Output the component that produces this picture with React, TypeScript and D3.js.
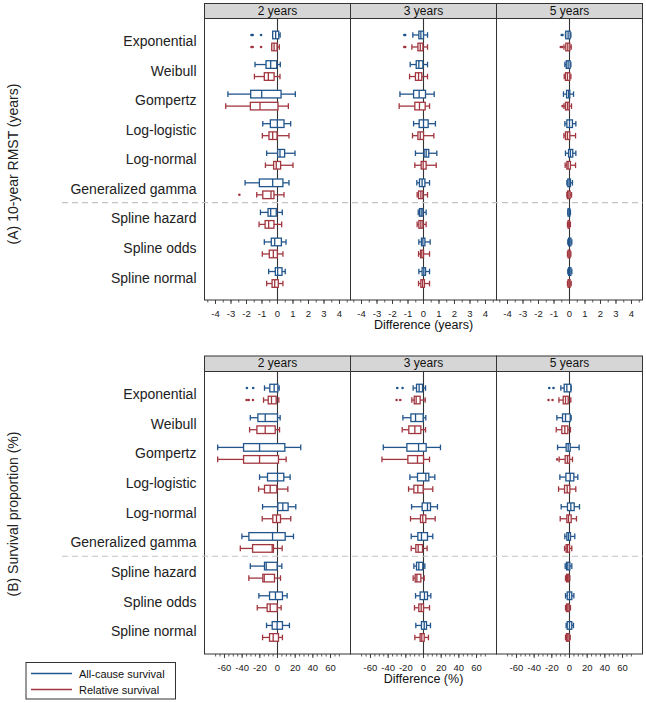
import React from "react";
import * as d3 from "d3";

const models = ["Exponential", "Weibull", "Gompertz", "Log-logistic", "Log-normal", "Generalized gamma", "Spline hazard", "Spline odds", "Spline normal"];
const horizons = ["2 years", "3 years", "5 years"];
const rmstTicks = [-4, -3, -2, -1, 0, 1, 2, 3, 4];
const propTicks = [-60, -40, -20, 0, 20, 40, 60];
const seriesNames = ["All-cause survival", "Relative survival"];

// [lower whisker, q1, median, q3, upper whisker]
const rmst2yAll = [[-0.31, -0.31, -0.12, 0.08, 0.17], [-1.45, -0.74, -0.44, -0.05, 0.18], [-3.2, -1.73, -1.02, 0.23, 1.15], [-0.95, -0.46, -0.01, 0.42, 0.85], [-0.7, 0.01, 0.16, 0.46, 1.13], [-2.09, -1.17, -0.31, 0.35, 0.74], [-1.1, -0.61, -0.44, -0.08, 0.31], [-0.85, -0.4, -0.18, 0.25, 0.55], [-0.57, -0.14, 0.01, 0.29, 0.5]];
const rmst2yRel = [[-0.37, -0.37, -0.22, -0.03, 0.12], [-1.49, -0.85, -0.59, -0.22, 0.16], [-3.34, -1.75, -1.13, 0.03, 0.7], [-0.98, -0.55, -0.31, -0.03, 0.74], [-0.78, -0.25, -0.08, 0.2, 1.0], [-1.34, -0.95, -0.42, -0.23, 0.42], [-1.19, -0.8, -0.57, -0.23, 0.27], [-0.98, -0.53, -0.27, -0.01, 0.35], [-0.7, -0.35, -0.18, 0.05, 0.35]];
const rmst3yAll = [[-0.69, -0.3, -0.17, 0, 0.26], [-0.86, -0.47, -0.3, -0.04, 0.26], [-1.52, -0.64, -0.28, 0.13, 0.69], [-0.64, -0.28, 0, 0.3, 0.77], [-0.52, 0.04, 0.17, 0.34, 0.86], [-0.43, -0.26, -0.09, 0.09, 0.39], [-0.34, -0.26, -0.15, -0.04, 0.17], [-0.3, -0.13, -0.04, 0.09, 0.43], [-0.3, -0.09, 0.02, 0.13, 0.39]];
const rmst3yRel = [[-0.75, -0.36, -0.21, -0.04, 0.26], [-0.9, -0.52, -0.32, -0.11, 0.26], [-1.57, -0.56, -0.26, 0.11, 0.39], [-0.71, -0.36, -0.21, 0, 0.67], [-0.56, -0.15, -0.02, 0.17, 0.82], [-0.41, -0.32, -0.17, -0.04, 0.26], [-0.41, -0.3, -0.17, -0.04, 0.17], [-0.32, -0.19, -0.11, 0, 0.39], [-0.32, -0.17, -0.06, 0.06, 0.39]];
const rmst5yAll = [[-0.26, -0.24, -0.09, 0.04, 0.09], [-0.3, -0.21, -0.09, 0.04, 0.09], [-0.39, -0.19, -0.06, 0.02, 0.26], [-0.3, -0.17, 0, 0.19, 0.41], [-0.26, -0.06, 0.06, 0.21, 0.41], [-0.17, -0.11, -0.02, 0.06, 0.19], [-0.11, -0.09, -0.02, 0.02, 0.06], [-0.11, -0.06, 0, 0.09, 0.15], [-0.11, -0.06, 0, 0.09, 0.15]];
const rmst5yRel = [[-0.36, -0.24, -0.11, 0.02, 0.11], [-0.34, -0.26, -0.13, 0.02, 0.09], [-0.36, -0.26, -0.13, -0.02, 0.13], [-0.36, -0.26, -0.13, 0.02, 0.39], [-0.28, -0.17, -0.09, 0.06, 0.39], [-0.17, -0.13, -0.04, 0.04, 0.13], [-0.13, -0.09, -0.04, 0, 0.06], [-0.13, -0.09, -0.02, 0.04, 0.09], [-0.13, -0.09, -0.02, 0.04, 0.11]];

const prop2yAll = [[-14.7, -8.7, -3.8, 0.4, 1.9], [-30.8, -22.2, -13.9, 0, 3.0], [-67.7, -38.4, -20.3, 8.3, 26.3], [-20.3, -11.3, 0, 7.1, 14.3], [-16.9, 0.4, 6.0, 12.0, 20.7], [-40.3, -32.4, -5.6, 8.7, 18.1], [-30.8, -14.7, -12.8, -0.4, 4.9], [-21.1, -9.0, -2.3, 5.6, 10.9], [-12.4, -6.0, -0.4, 5.6, 13.5]];
const prop2yRel = [[-15.8, -10.5, -6.8, -1.5, 1.5], [-31.6, -23.3, -13.9, -2.6, 2.3], [-67.7, -38.4, -20.3, 1.1, 9.8], [-21.4, -14.7, -8.3, -0.8, 11.7], [-17.3, -5.3, -1.1, 3.4, 15.0], [-42.1, -28.2, -6.0, -4.6, 5.3], [-32.4, -16.6, -15.0, -3.4, 3.4], [-22.9, -11.7, -8.3, -0.4, 4.1], [-16.9, -9.0, -4.9, 1.1, 5.6]];
const prop3yAll = [[-11.7, -7.9, -4.9, -1.1, 2.3], [-23.3, -14.3, -9.0, -0.4, 2.6], [-45.5, -18.8, -5.6, 3.0, 19.2], [-15.4, -6.8, 2.6, 6.0, 12.8], [-13.5, -1.5, 4.5, 7.9, 15.8], [-13.9, -6.4, -2.3, 4.5, 10.5], [-10.9, -7.9, -5.3, -0.8, 1.5], [-9.0, -3.8, 1.1, 4.5, 8.3], [-8.7, -2.3, 0.8, 3.4, 7.9]];
const prop3yRel = [[-13.2, -10.5, -8.3, -3.8, 1.9], [-24.1, -16.6, -9.8, -3.0, 2.3], [-47.0, -17.7, -6.8, 0, 6.8], [-16.9, -10.9, -6.4, -0.4, 10.5], [-14.7, -3.4, -0.8, 2.6, 13.2], [-13.9, -8.7, -6.0, -1.1, 4.1], [-11.7, -9.4, -7.5, -3.0, 0.8], [-10.2, -5.3, -2.6, 0, 6.8], [-9.8, -3.8, -1.9, 0.8, 5.6]];
const prop5yAll = [[-9.8, -6.0, -3.0, 1.5, 1.9], [-14.3, -7.9, -4.5, 0.8, 1.9], [-13.5, -3.8, -1.5, 0.8, 10.9], [-10.9, -4.1, 0.8, 4.9, 9.4], [-9.4, -2.3, 1.5, 5.3, 11.3], [-5.3, -3.0, -1.1, 1.1, 6.0], [-4.9, -3.4, -1.9, 0.4, 2.6], [-4.5, -2.6, 0, 2.6, 4.9], [-3.8, -2.6, 0, 2.6, 4.5]];
const prop5yRel = [[-12.0, -7.1, -4.5, -1.5, 1.5], [-15.0, -8.7, -5.3, -1.9, 1.1], [-11.7, -4.9, -2.3, 0, 3.4], [-12.4, -5.6, -2.6, 0.4, 7.1], [-10.5, -3.0, -1.1, 1.9, 7.9], [-5.6, -3.8, -2.3, 0, 2.6], [-4.5, -3.4, -2.3, -0.8, 0.4], [-4.5, -3.4, -1.9, -0.4, 1.1], [-4.5, -3.4, -1.9, -0.4, 0.8]];

// outliers per model
const rmst2yAllOut = [[-1.68, -1.6, -1.06], [], [], [], [], [], [], [], []];
const rmst2yRelOut = [[-1.68, -1.6, -1.06], [], [], [], [], [-2.46], [], [], []];
const rmst3yAllOut = [[-1.24, -1.18], [], [], [], [], [], [], [], []];
const rmst3yRelOut = [[-1.24, -1.18], [], [], [], [], [], [], [], []];
const rmst5yAllOut = [[-0.5, -0.45], [], [], [], [], [], [], [], []];
const rmst5yRelOut = [[-0.56, -0.47], [], [-0.45], [], [], [], [], [], []];
const prop2yAllOut = [[-34.6, -27.5], [], [], [], [], [], [], [], []];
const prop2yRelOut = [[-35.0, -32.6, -27.8], [], [], [], [], [], [], [], []];
const prop3yAllOut = [[-29.7, -23.7], [], [], [], [], [], [], [], []];
const prop3yRelOut = [[-30.5, -26.3], [], [], [], [], [], [], [], []];
const prop5yAllOut = [[-22.9, -18.1], [], [], [], [], [], [], [], []];
const prop5yRelOut = [[-23.7, -19.2], [], [-13.9], [], [], [], [], [], []];

const BLUE = "#21558c";
const RED = "#a2363f";
const FONT = "'Liberation Sans', Arial, Helvetica, sans-serif";

const PX0 = 204.5;
const PW = 146;

type Block = {
  title: string;
  axisTitle: string;
  headerTop: number;
  plotTop: number;
  plotBottom: number;
  domain: [number, number];
  ticks: number[];
  minorStep: number;
  minorMax: number;
  titleY: number;
  all: number[][][];
  rel: number[][][];
  allOut: number[][][];
  relOut: number[][][];
};

const blocks: Block[] = [
  {
    title: "(A) 10-year RMST (years)",
    axisTitle: "Difference (years)",
    headerTop: 3.5,
    plotTop: 18.5,
    plotBottom: 300,
    domain: [-4.71, 4.71],
    ticks: rmstTicks,
    minorStep: 0.5,
    minorMax: 4.5,
    titleY: 164,
    all: [rmst2yAll, rmst3yAll, rmst5yAll],
    rel: [rmst2yRel, rmst3yRel, rmst5yRel],
    allOut: [rmst2yAllOut, rmst3yAllOut, rmst5yAllOut],
    relOut: [rmst2yRelOut, rmst3yRelOut, rmst5yRelOut],
  },
  {
    title: "(B) Survival proportion (%)",
    axisTitle: "Difference (%)",
    headerTop: 356,
    plotTop: 371.5,
    plotBottom: 654,
    domain: [-82.6, 82.6],
    ticks: propTicks,
    minorStep: 5,
    minorMax: 70,
    titleY: 514,
    all: [prop2yAll, prop3yAll, prop5yAll],
    rel: [prop2yRel, prop3yRel, prop5yRel],
    allOut: [prop2yAllOut, prop3yAllOut, prop5yAllOut],
    relOut: [prop2yRelOut, prop3yRelOut, prop5yRelOut],
  },
];

function BoxMark({ b, out, x, y, color }: { b: number[]; out: number[]; x: d3.ScaleLinear<number, number>; y: number; color: string }) {
  const [lw, q1, med, q3, uw] = b;
  const bh = 3.8;
  const ch = 2.8;
  const sw = 1.3;
  return (
    <g stroke={color} strokeWidth={sw} fill="none">
      <line x1={x(lw)} x2={x(q1)} y1={y} y2={y} />
      <line x1={x(q3)} x2={x(uw)} y1={y} y2={y} />
      <line x1={x(lw)} x2={x(lw)} y1={y - ch} y2={y + ch} />
      <line x1={x(uw)} x2={x(uw)} y1={y - ch} y2={y + ch} />
      <rect x={x(q1)} y={y - bh} width={Math.max(0.5, x(q3) - x(q1))} height={bh * 2} fill="#fff" />
      <line x1={x(med)} x2={x(med)} y1={y - bh} y2={y + bh} />
      {out.map((o, i) => (
        <circle key={i} cx={x(o)} cy={y} r={1.3} fill={color} stroke="none" />
      ))}
    </g>
  );
}

function BlockView({ bl }: { bl: Block }) {
  const yS = d3.scaleLinear().domain([-0.76, 8.76]).range([bl.plotTop, bl.plotBottom]);
  const sepY = yS(5.5) - 1;
  const minor = d3.range(-bl.minorMax, bl.minorMax + 1e-9, bl.minorStep);
  return (
    <g>
      <text
        transform={`translate(13,${bl.titleY}) rotate(-90)`}
        textAnchor="middle"
        dominantBaseline="central"
        fontSize={14}
        fill="#222"
      >
        {bl.title}
      </text>
      {models.map((m, i) => (
        <text key={m} x={196.5} y={yS(i)} textAnchor="end" dominantBaseline="central" fontSize={14} fill="#222">
          {m}
        </text>
      ))}
      {horizons.map((h, p) => {
        const x0 = PX0 + p * PW;
        const xS = d3.scaleLinear().domain(bl.domain).range([x0, x0 + PW]);
        return (
          <g key={h}>
            <rect x={x0} y={bl.headerTop} width={PW} height={bl.plotTop - bl.headerTop} fill="#d6d6d6" stroke="#333" strokeWidth={1} />
            <text x={x0 + PW / 2} y={bl.headerTop + 11.2} textAnchor="middle" fontSize={12} fill="#111">
              {h}
            </text>
            <rect x={x0} y={bl.plotTop} width={PW} height={bl.plotBottom - bl.plotTop} fill="#fff" stroke="#333" strokeWidth={1} />
            <line x1={xS(0)} x2={xS(0)} y1={bl.plotTop} y2={bl.plotBottom} stroke="#333" strokeWidth={1.1} />
            {minor.map((t) => (
              <line key={t} x1={xS(t)} x2={xS(t)} y1={bl.plotBottom} y2={bl.plotBottom + 2.5} stroke="#333" strokeWidth={0.8} />
            ))}
            {bl.ticks.map((t) => (
              <g key={t}>
                <line x1={xS(t)} x2={xS(t)} y1={bl.plotBottom} y2={bl.plotBottom + 4} stroke="#333" strokeWidth={0.9} />
                <text x={xS(t)} y={bl.plotBottom + 16.5} textAnchor="middle" fontSize={9.5} fill="#222">
                  {t}
                </text>
              </g>
            ))}
            {models.map((m, i) => (
              <g key={m}>
                <BoxMark b={bl.all[p][i]} out={bl.allOut[p][i]} x={xS} y={yS(i) - 6} color={BLUE} />
                <BoxMark b={bl.rel[p][i]} out={bl.relOut[p][i]} x={xS} y={yS(i) + 6} color={RED} />
              </g>
            ))}
          </g>
        );
      })}
      <line x1={62} x2={PX0 + 3 * PW} y1={sepY} y2={sepY} stroke="#c4c4c4" strokeWidth={1.2} strokeDasharray="6,4" />
      <text x={PX0 + 1.5 * PW} y={bl.plotBottom + 28.5} textAnchor="middle" fontSize={12.5} fill="#111">
        {bl.axisTitle}
      </text>
    </g>
  );
}

export default function App() {
  const colors = [BLUE, RED];
  return (
    <svg
      width={646}
      height={703}
      style={{ position: "absolute", left: 0, top: 0, fontFamily: FONT, background: "#fff" }}
    >
      <rect x={0} y={0} width={646} height={703} fill="#fff" />
      {blocks.map((bl, i) => (
        <BlockView key={i} bl={bl} />
      ))}
      <g>
        <rect x={26} y={662.5} width={149.5} height={36.5} fill="#fff" stroke="#333" strokeWidth={1} />
        {seriesNames.map((s, i) => (
          <g key={s}>
            <line x1={31} x2={72} y1={673.5 + i * 16} y2={673.5 + i * 16} stroke={colors[i]} strokeWidth={1.5} />
            <text x={79} y={673.5 + i * 16} dominantBaseline="central" fontSize={11} fill="#111">
              {s}
            </text>
          </g>
        ))}
      </g>
    </svg>
  );
}
